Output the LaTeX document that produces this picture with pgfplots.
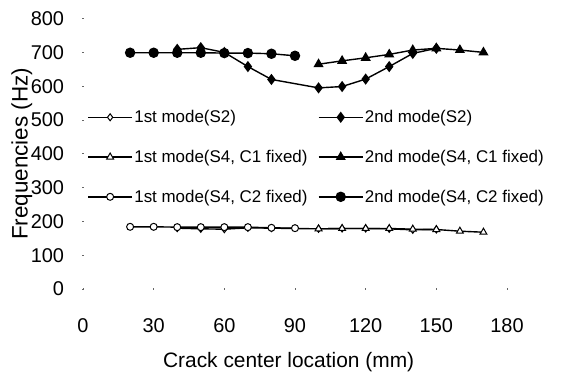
\documentclass[border=0pt]{standalone}
\usepackage{fontspec}
\setmainfont{Liberation Sans}
\usepackage{pgfplots}
\pgfplotsset{compat=1.18}
\begin{document}
\begin{tikzpicture}
\path[use as bounding box] (0,0) rectangle (561bp,373bp);
\begin{axis}[
  at={(83bp,84bp)}, anchor=south west,
  width=424bp, height=270.4bp, scale only axis,
  xmin=0, xmax=180, ymin=0, ymax=800,
  xtick={0,30,...,180}, ytick={0,100,...,800},
  axis line style={draw=none},
  tick pos=left,
  major tick length=1.5bp,
  tick align=center,
  tick style={black!60, line width=0.8bp},
  /pgf/number format/assume math mode=true,
  ticklabel style={font=\fontsize{20}{24}\selectfont, inner sep=0pt},
  xticklabel style={anchor=center, yshift=-36bp},
  yticklabel style={anchor=east, xshift=-18bp},
  xlabel={Crack center location (mm)},
  ylabel={Frequencies (Hz)},
  xlabel style={font=\fontsize{21}{24}\selectfont, at={(axis description cs:0.485,-0.27)}, anchor=center},
  ylabel style={font=\fontsize{22.5}{26}\selectfont, at={(axis description cs:-0.144,0.5)}, anchor=center},
  legend columns=2,
  legend cell align=left,
  legend image code/.code={\draw[mark repeat=2,mark phase=2,#1] plot coordinates {(0bp,0bp) (22bp,0bp) (44bp,0bp)};},
  legend style={draw=none, fill=none, inner sep=0pt,
    at={(axis description cs:0.01,0.488)}, anchor=west,
    font=\fontsize{17}{20}\selectfont,
    nodes={inner sep=1.5bp},
    row sep=23bp,
    /tikz/every even column/.append style={column sep=9bp}},
  every axis plot/.append style={black, line width=1.4bp},
]
% 1st mode (S2)
\addplot[mark=diamond*, mark size=3.5bp, mark options={fill=white, line width=1bp}] coordinates {
(40,180) (50,178) (60,177) (70,181) (80,180) (100,178) (110,179) (120,179) (130,178) (140,175) (150,176)};
\addlegendentry{1st mode(S2)}
% 2nd mode (S2)
\addplot[mark=diamond*, mark size=4.5bp, mark options={fill=black}] coordinates {
(40,709) (50,714) (60,700) (70,658) (80,620) (100,595) (110,599) (120,621) (130,658) (140,697) (150,712)};
\addlegendentry{2nd mode(S2)}
% 1st mode (S4, C1 fixed)
\addplot[mark=triangle*, mark size=4bp, mark options={fill=white, line width=1bp}] coordinates {
(100,178) (110,179) (120,179) (130,179) (140,177) (150,176) (160,171) (170,168)};
\addlegendentry{1st mode(S4, C1 fixed)}
% 2nd mode (S4, C1 fixed)
\addplot[mark=triangle*, mark size=4.5bp, mark options={fill=black}] coordinates {
(100,665) (110,675) (120,684) (130,694) (140,707) (150,712) (160,707) (170,700)};
\addlegendentry{2nd mode(S4, C1 fixed)}
% 1st mode (S4, C2 fixed)
\addplot[mark=*, mark size=3.5bp, mark options={fill=white, line width=1bp}] coordinates {
(20,184) (30,184) (40,183) (50,183) (60,183) (70,183) (80,181) (90,180)};
\addlegendentry{1st mode(S4, C2 fixed)}
% 2nd mode (S4, C2 fixed)
\addplot[mark=*, mark size=4.5bp, mark options={fill=black}] coordinates {
(20,699) (30,699) (40,699) (50,699) (60,698) (70,698) (80,696) (90,690)};
\addlegendentry{2nd mode(S4, C2 fixed)}
\end{axis}
\end{tikzpicture}
\end{document}
